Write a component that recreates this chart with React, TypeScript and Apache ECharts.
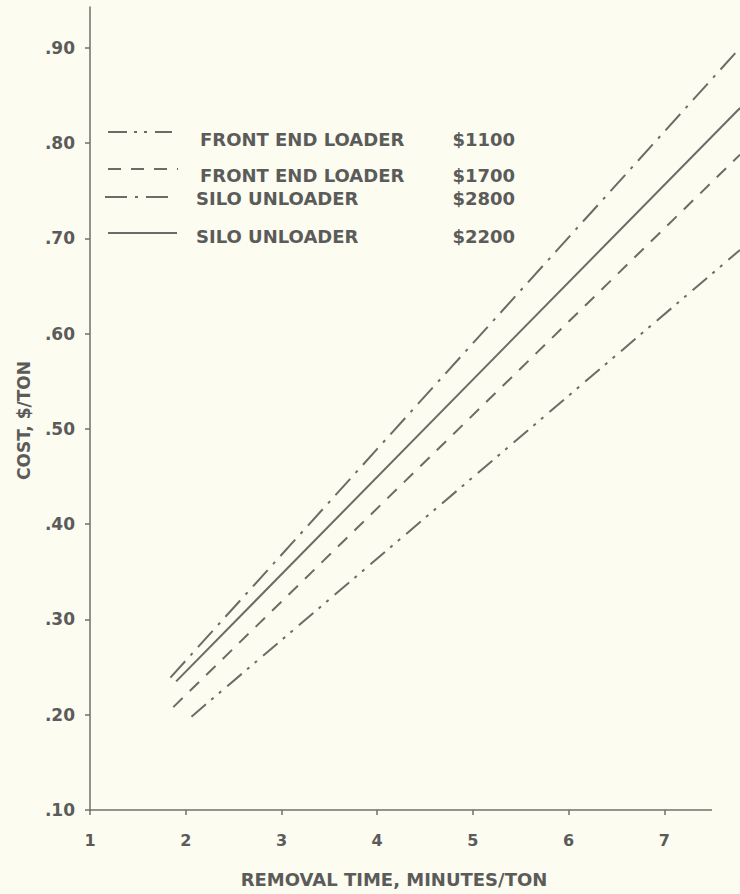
import React, { useEffect, useRef } from "react";
import * as echarts from "echarts";

// ---- data ----
const xTicks = [1, 2, 3, 4, 5, 6, 7];
const yTicks = [0.1, 0.2, 0.3, 0.4, 0.5, 0.6, 0.7, 0.8, 0.9];

const seriesNames = ["FRONT END LOADER", "FRONT END LOADER", "SILO UNLOADER", "SILO UNLOADER"];
const seriesPrices = ["$1100", "$1700", "$2800", "$2200"];

const fel1100 = [
  [2.06, 0.198],
  [7.79, 0.688],
];
const fel1700 = [
  [1.87, 0.208],
  [7.79, 0.788],
];
const su2800 = [
  [1.84, 0.239],
  [7.79, 0.9],
];
const su2200 = [
  [1.9, 0.235],
  [7.79, 0.837],
];

const seriesData = [fel1100, fel1700, su2800, su2200];

// ---- styles ----
const FONT = "'DejaVu Sans', 'Liberation Sans', Arial, sans-serif";
const TEXT = "#5b5b59";
const LINE = "#6b6b67";
const AXIS = "#6f6f6c";
const BG = "#fcfcf1";
const dashes: (number[] | "solid")[] = [
  [19, 7, 3, 7, 3, 8],
  [13, 10],
  [22, 8, 3, 8],
  "solid",
];
// legend row layout (icon y, icon x0, icon x1, text x, text y)
const legendRows = [
  { iy: 132, ix0: 108, ix1: 172, tx: 200, ty: 139 },
  { iy: 169, ix0: 108, ix1: 178, tx: 200, ty: 175 },
  { iy: 197, ix0: 105, ix1: 175, tx: 196, ty: 198 },
  { iy: 233, ix0: 108, ix1: 177, tx: 196, ty: 236 },
];

export default function App() {
  const ref = useRef<HTMLDivElement>(null);

  useEffect(() => {
    document.body.style.margin = "0";
    const chart = echarts.init(ref.current!, null, { renderer: "svg" });

    const graphic: any[] = [
      // visible x-axis line (the plotted lines run past its end, as in the reference)
      {
        type: "line",
        shape: { x1: 90, y1: 810, x2: 712, y2: 810 },
        style: { stroke: AXIS, lineWidth: 1.5 },
        z: 5,
      },
    ];
    legendRows.forEach((r, i) => {
      const d = dashes[i];
      graphic.push({
        type: "line",
        shape: { x1: r.ix0, y1: r.iy, x2: r.ix1, y2: r.iy },
        style: {
          stroke: LINE,
          lineWidth: 2,
          lineDash: d === "solid" ? null : d,
        },
        z: 10,
      });
      graphic.push({
        type: "text",
        x: r.tx,
        y: r.ty,
        style: {
          text: seriesNames[i],
          fill: TEXT,
          font: `bold 18px ${FONT}`,
          verticalAlign: "middle",
          align: "left",
        },
        z: 10,
      });
      graphic.push({
        type: "text",
        x: 515,
        y: r.ty,
        style: {
          text: seriesPrices[i],
          fill: TEXT,
          font: `bold 18px ${FONT}`,
          verticalAlign: "middle",
          align: "right",
        },
        z: 10,
      });
    });

    const option: any = {
      animation: false,
      backgroundColor: BG,
      grid: { left: 90, right: 0, top: 7, bottom: 84, containLabel: false },
      xAxis: {
        type: "value",
        min: 1,
        max: 7.79,
        interval: 1,
        name: "REMOVAL TIME, MINUTES/TON",
        nameLocation: "middle",
        nameGap: 60,
        nameTextStyle: {
          color: TEXT,
          fontFamily: FONT,
          fontWeight: "bold",
          fontSize: 18,
          padding: [0, 42, 0, 0],
        },
        axisLine: { show: false },
        axisTick: {
          show: true,
          length: 5,
          customValues: xTicks,
          lineStyle: { color: AXIS, width: 1.5 },
        },
        axisLabel: {
          customValues: xTicks,
          margin: 22,
          color: TEXT,
          fontFamily: FONT,
          fontWeight: "bold",
          fontSize: 16,
          formatter: (v: number) => String(v),
        },
        splitLine: { show: false },
      },
      yAxis: {
        type: "value",
        min: 0.1,
        max: 0.943,
        interval: 0.1,
        name: "COST, $/TON",
        nameLocation: "middle",
        nameGap: 58,
        nameRotate: 90,
        nameTextStyle: {
          color: TEXT,
          fontFamily: FONT,
          fontWeight: "bold",
          fontSize: 17,
          padding: [0, 24, 0, 0],
        },
        axisLine: { show: true, lineStyle: { color: AXIS, width: 1.5 } },
        axisTick: {
          show: true,
          length: 5,
          customValues: yTicks,
          lineStyle: { color: AXIS, width: 1.5 },
        },
        axisLabel: {
          customValues: yTicks,
          margin: 15,
          color: TEXT,
          fontFamily: FONT,
          fontWeight: "bold",
          fontSize: 17,
          formatter: (v: number) => "." + String(Math.round(v * 100)).padStart(2, "0"),
        },
        splitLine: { show: false },
      },
      series: seriesData.map((d, i) => ({
        type: "line",
        name: seriesNames[i] + " " + seriesPrices[i],
        data: d,
        clip: false,
        symbol: "none",
        lineStyle: { color: LINE, width: 2, type: dashes[i] },
      })),
      graphic,
    };

    chart.setOption(option);
    return () => chart.dispose();
  }, []);

  return (
    <div
      ref={ref}
      style={{ position: "absolute", left: 0, top: 0, width: 740, height: 894 }}
    />
  );
}
